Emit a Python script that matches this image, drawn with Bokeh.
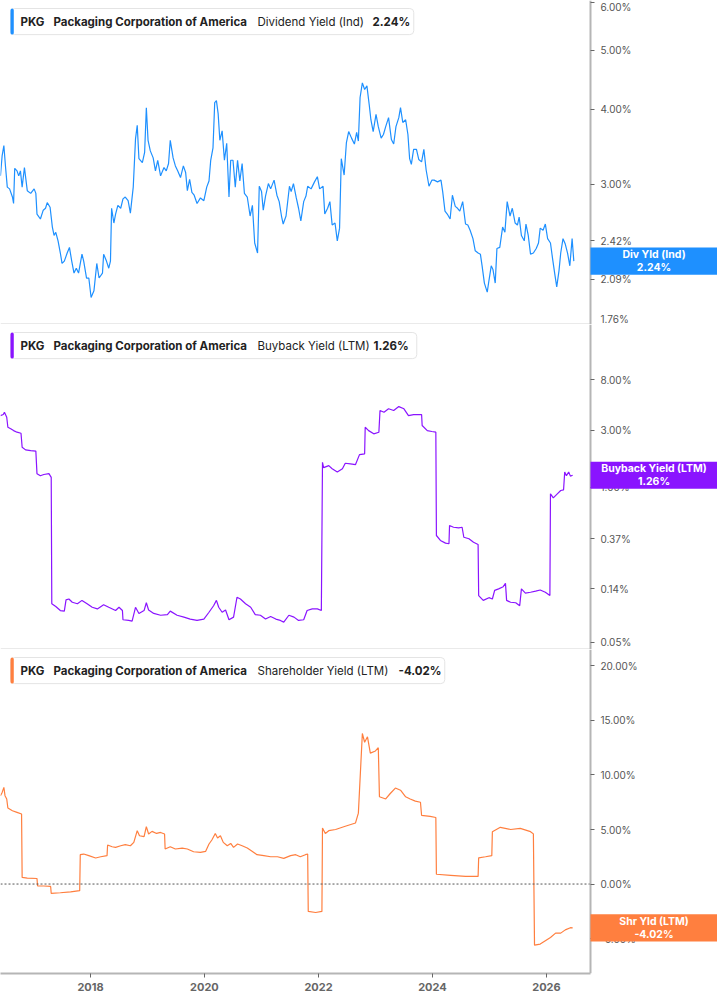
import pandas as pd
from bokeh.plotting import figure
from bokeh.layouts import column
from bokeh.models import (Range1d, FixedTicker, PrintfTickFormatter, DatetimeTickFormatter,
                          Label, ColumnDataSource)
from bokeh.embed import file_html
from bokeh.resources import INLINE

FONT = "Inter"

# ---- data: (decimal year, value in %) ----
div_yield = [(2016.42, 3.10), (2016.45, 3.35), (2016.48, 3.48), (2016.51, 3.20), (2016.54, 2.97), (2016.58, 2.95),
    (2016.63, 2.86), (2016.65, 2.79), (2016.67, 3.19), (2016.71, 3.16), (2016.74, 3.10), (2016.77, 3.16),
    (2016.80, 2.97), (2016.84, 3.20), (2016.89, 2.93), (2016.95, 2.90), (2017.01, 2.95), (2017.04, 2.90),
    (2017.06, 2.68), (2017.12, 2.63), (2017.17, 2.72), (2017.21, 2.74), (2017.24, 2.80), (2017.29, 2.75),
    (2017.33, 2.55), (2017.36, 2.47), (2017.39, 2.50), (2017.43, 2.42), (2017.47, 2.31), (2017.50, 2.22),
    (2017.54, 2.24), (2017.59, 2.31), (2017.63, 2.36), (2017.67, 2.24), (2017.71, 2.14), (2017.75, 2.18),
    (2017.79, 2.14), (2017.85, 2.30), (2017.88, 2.24), (2017.93, 2.10), (2017.97, 2.10), (2018.01, 1.95),
    (2018.06, 2.00), (2018.11, 2.22), (2018.15, 2.10), (2018.21, 2.14), (2018.23, 2.30), (2018.28, 2.24),
    (2018.32, 2.18), (2018.35, 2.24), (2018.37, 2.74), (2018.41, 2.59), (2018.44, 2.68), (2018.48, 2.77),
    (2018.53, 2.74), (2018.57, 2.84), (2018.61, 2.86), (2018.66, 2.82), (2018.70, 2.69), (2018.75, 2.97),
    (2018.79, 3.57), (2018.82, 3.76), (2018.85, 3.31), (2018.91, 3.26), (2018.95, 3.39), (2018.98, 4.02),
    (2019.01, 3.55), (2019.05, 3.41), (2019.10, 3.32), (2019.14, 3.16), (2019.18, 3.29), (2019.23, 3.10),
    (2019.29, 3.20), (2019.33, 3.16), (2019.37, 3.25), (2019.40, 3.55), (2019.45, 3.32), (2019.49, 3.22),
    (2019.53, 3.16), (2019.58, 3.08), (2019.63, 3.22), (2019.67, 3.14), (2019.70, 2.93), (2019.74, 3.06),
    (2019.78, 2.91), (2019.82, 2.88), (2019.87, 2.79), (2019.93, 2.85), (2019.99, 2.82), (2020.04, 2.97),
    (2020.08, 3.04), (2020.11, 3.29), (2020.15, 3.45), (2020.18, 4.10), (2020.21, 4.13), (2020.24, 3.93),
    (2020.27, 3.55), (2020.31, 3.68), (2020.35, 3.29), (2020.39, 3.51), (2020.43, 2.86), (2020.46, 3.29),
    (2020.50, 3.29), (2020.54, 2.97), (2020.58, 3.29), (2020.62, 3.04), (2020.66, 3.25), (2020.70, 2.90),
    (2020.75, 2.86), (2020.80, 2.66), (2020.84, 2.77), (2020.88, 2.40), (2020.93, 2.31), (2020.96, 2.98),
    (2021.00, 2.92), (2021.03, 2.72), (2021.07, 2.87), (2021.12, 3.01), (2021.16, 2.95), (2021.22, 3.05),
    (2021.27, 2.88), (2021.31, 2.81), (2021.35, 2.66), (2021.38, 2.58), (2021.43, 2.66), (2021.49, 2.98),
    (2021.52, 2.92), (2021.56, 3.01), (2021.61, 2.85), (2021.65, 2.74), (2021.69, 2.61), (2021.74, 2.81),
    (2021.78, 2.87), (2021.81, 2.98), (2021.87, 2.95), (2021.93, 3.03), (2021.98, 3.09), (2022.02, 2.95),
    (2022.08, 2.98), (2022.11, 2.68), (2022.16, 2.74), (2022.20, 2.81), (2022.24, 2.57), (2022.29, 2.59),
    (2022.33, 2.42), (2022.37, 2.54), (2022.40, 3.31), (2022.45, 3.11), (2022.49, 3.52), (2022.53, 3.67),
    (2022.58, 3.58), (2022.63, 3.50), (2022.67, 3.66), (2022.70, 3.54), (2022.73, 4.18), (2022.77, 4.42),
    (2022.81, 4.31), (2022.85, 4.37), (2022.89, 4.07), (2022.92, 3.84), (2022.96, 3.67), (2023.01, 3.92),
    (2023.05, 3.74), (2023.10, 3.58), (2023.14, 3.63), (2023.18, 3.74), (2023.23, 3.87), (2023.28, 3.56),
    (2023.32, 3.50), (2023.36, 3.74), (2023.41, 3.87), (2023.44, 4.02), (2023.48, 3.80), (2023.53, 3.84),
    (2023.57, 3.63), (2023.60, 3.31), (2023.63, 3.24), (2023.67, 3.43), (2023.72, 3.43), (2023.76, 3.30),
    (2023.81, 3.27), (2023.85, 3.43), (2023.89, 3.17), (2023.94, 2.98), (2023.99, 3.05), (2024.03, 3.05),
    (2024.09, 3.03), (2024.15, 3.05), (2024.18, 2.92), (2024.22, 2.71), (2024.26, 2.68), (2024.31, 2.63),
    (2024.35, 2.88), (2024.40, 2.76), (2024.44, 2.74), (2024.48, 2.71), (2024.53, 2.81), (2024.58, 2.58),
    (2024.62, 2.57), (2024.66, 2.52), (2024.71, 2.44), (2024.75, 2.33), (2024.80, 2.31), (2024.84, 2.30),
    (2024.87, 2.20), (2024.91, 2.06), (2024.96, 1.99), (2024.99, 2.08), (2025.03, 2.20), (2025.06, 2.17),
    (2025.10, 2.06), (2025.13, 2.35), (2025.18, 2.36), (2025.23, 2.55), (2025.27, 2.50), (2025.31, 2.81),
    (2025.36, 2.66), (2025.40, 2.74), (2025.45, 2.59), (2025.49, 2.57), (2025.52, 2.65), (2025.56, 2.47),
    (2025.61, 2.42), (2025.64, 2.58), (2025.68, 2.47), (2025.72, 2.30), (2025.77, 2.31), (2025.82, 2.35),
    (2025.86, 2.40), (2025.89, 2.54), (2025.94, 2.52), (2025.98, 2.58), (2026.02, 2.44), (2026.07, 2.40),
    (2026.11, 2.25), (2026.15, 2.12), (2026.18, 2.03), (2026.22, 2.16), (2026.25, 2.31), (2026.29, 2.44),
    (2026.33, 2.39), (2026.37, 2.31), (2026.41, 2.20), (2026.45, 2.44), (2026.48, 2.24)]

buyback_yield = [(2016.42, 4.00), (2016.47, 4.08), (2016.49, 4.27), (2016.53, 3.87), (2016.55, 3.19), (2016.60, 3.10),
    (2016.65, 2.99), (2016.71, 2.90), (2016.78, 2.84), (2016.80, 2.17), (2016.86, 2.06), (2016.95, 2.03),
    (2017.04, 2.01), (2017.06, 1.30), (2017.12, 1.25), (2017.18, 1.28), (2017.27, 1.30), (2017.31, 1.21),
    (2017.32, 0.105), (2017.39, 0.0995), (2017.47, 0.092), (2017.54, 0.091), (2017.57, 0.113), (2017.62, 0.115),
    (2017.68, 0.108), (2017.77, 0.105), (2017.85, 0.112), (2017.94, 0.105), (2018.03, 0.098), (2018.12, 0.095),
    (2018.23, 0.103), (2018.32, 0.098), (2018.44, 0.092), (2018.50, 0.098), (2018.56, 0.092), (2018.57, 0.077),
    (2018.67, 0.076), (2018.73, 0.075), (2018.79, 0.098), (2018.85, 0.087), (2018.94, 0.092), (2018.98, 0.107),
    (2019.02, 0.093), (2019.11, 0.087), (2019.23, 0.084), (2019.35, 0.085), (2019.40, 0.091), (2019.52, 0.084),
    (2019.64, 0.081), (2019.75, 0.078), (2019.87, 0.076), (2019.99, 0.078), (2020.08, 0.089), (2020.16, 0.101),
    (2020.21, 0.112), (2020.25, 0.098), (2020.31, 0.089), (2020.37, 0.093), (2020.43, 0.077), (2020.51, 0.081),
    (2020.57, 0.119), (2020.63, 0.115), (2020.72, 0.105), (2020.81, 0.098), (2020.89, 0.085), (2020.98, 0.084),
    (2021.07, 0.078), (2021.16, 0.082), (2021.25, 0.078), (2021.33, 0.076), (2021.39, 0.0735), (2021.48, 0.084),
    (2021.57, 0.081), (2021.65, 0.076), (2021.74, 0.077), (2021.80, 0.092), (2021.89, 0.095), (2021.98, 0.095),
    (2022.05, 0.092), (2022.07, 1.62), (2022.09, 1.46), (2022.18, 1.52), (2022.24, 1.43), (2022.33, 1.34),
    (2022.42, 1.43), (2022.47, 1.59), (2022.56, 1.57), (2022.65, 1.55), (2022.72, 1.88), (2022.81, 1.91),
    (2022.82, 3.19), (2022.88, 2.99), (2022.97, 2.81), (2023.06, 2.90), (2023.08, 4.41), (2023.15, 4.27),
    (2023.23, 4.56), (2023.32, 4.41), (2023.41, 4.76), (2023.50, 4.56), (2023.58, 4.00), (2023.67, 4.08),
    (2023.81, 4.08), (2023.82, 3.30), (2023.91, 2.99), (2023.99, 2.94), (2024.06, 2.90), (2024.07, 0.393),
    (2024.14, 0.357), (2024.23, 0.339), (2024.29, 0.335), (2024.30, 0.477), (2024.37, 0.461), (2024.46, 0.456),
    (2024.52, 0.461), (2024.55, 0.380), (2024.64, 0.369), (2024.72, 0.345), (2024.80, 0.330), (2024.81, 0.123),
    (2024.89, 0.112), (2024.99, 0.118), (2025.05, 0.115), (2025.09, 0.136), (2025.16, 0.140), (2025.24, 0.146),
    (2025.28, 0.156), (2025.30, 0.112), (2025.37, 0.108), (2025.46, 0.107), (2025.53, 0.101), (2025.56, 0.140),
    (2025.63, 0.129), (2025.72, 0.131), (2025.81, 0.134), (2025.89, 0.137), (2025.98, 0.131), (2026.06, 0.123),
    (2026.07, 0.880), (2026.12, 0.815), (2026.19, 0.880), (2026.25, 0.938), (2026.30, 0.951), (2026.32, 1.34),
    (2026.35, 1.25), (2026.39, 1.34), (2026.42, 1.24), (2026.46, 1.26)]

shareholder_yield = [(2016.42, 8.10), (2016.45, 8.40), (2016.48, 8.86), (2016.50, 8.10), (2016.53, 7.80), (2016.55, 6.97),
    (2016.63, 6.72), (2016.71, 6.57), (2016.79, 6.42), (2016.80, 0.61), (2016.89, 0.55), (2017.06, 0.51),
    (2017.07, -0.16), (2017.18, -0.18), (2017.30, -0.22), (2017.31, -0.86), (2017.47, -0.80), (2017.65, -0.71),
    (2017.81, -0.61), (2017.82, 2.69), (2017.88, 2.75), (2017.97, 2.60), (2018.09, 2.39), (2018.18, 2.50),
    (2018.29, 2.60), (2018.30, 3.58), (2018.38, 3.42), (2018.44, 3.36), (2018.53, 3.51), (2018.61, 3.61),
    (2018.70, 3.51), (2018.76, 3.82), (2018.82, 4.89), (2018.86, 4.43), (2018.94, 4.34), (2018.98, 5.26),
    (2019.02, 4.59), (2019.08, 4.83), (2019.16, 4.64), (2019.23, 4.73), (2019.30, 4.59), (2019.31, 3.21),
    (2019.40, 3.42), (2019.49, 3.21), (2019.61, 3.30), (2019.70, 3.21), (2019.81, 2.96), (2019.93, 2.90),
    (2020.02, 2.99), (2020.08, 3.67), (2020.13, 4.04), (2020.19, 4.64), (2020.23, 4.22), (2020.28, 4.43),
    (2020.33, 3.82), (2020.40, 3.51), (2020.46, 3.72), (2020.51, 3.36), (2020.58, 3.67), (2020.66, 3.51),
    (2020.75, 3.30), (2020.84, 2.99), (2020.92, 2.69), (2021.04, 2.60), (2021.16, 2.50), (2021.28, 2.50),
    (2021.39, 2.35), (2021.51, 2.60), (2021.60, 2.69), (2021.68, 2.50), (2021.77, 2.69), (2021.81, 2.75),
    (2021.82, -2.51), (2021.95, -2.61), (2022.06, -2.51), (2022.07, 5.14), (2022.12, 4.64), (2022.18, 4.89),
    (2022.30, 5.00), (2022.47, 5.30), (2022.65, 5.60), (2022.70, 6.50), (2022.77, 13.8), (2022.81, 13.0),
    (2022.86, 13.5), (2022.91, 12.0), (2023.00, 12.2), (2023.05, 12.5), (2023.07, 8.00), (2023.18, 7.80),
    (2023.26, 8.30), (2023.35, 8.80), (2023.44, 8.60), (2023.53, 8.00), (2023.61, 7.80), (2023.70, 7.60),
    (2023.79, 7.50), (2023.81, 6.30), (2023.96, 6.20), (2024.06, 6.10), (2024.07, 0.90), (2024.32, 0.80),
    (2024.58, 0.70), (2024.80, 0.70), (2024.81, 2.40), (2024.93, 2.50), (2025.04, 2.60), (2025.05, 4.80),
    (2025.19, 5.20), (2025.37, 5.00), (2025.54, 5.10), (2025.72, 4.80), (2025.77, 4.60), (2025.79, -5.60),
    (2025.89, -5.50), (2025.98, -5.20), (2026.07, -4.90), (2026.16, -4.50), (2026.25, -4.50), (2026.33, -4.20),
    (2026.42, -4.00), (2026.46, -4.02)]

div_ticks = [1.76, 2.09, 2.42, 3.00, 4.00, 5.00, 6.00]
buy_ticks = [0.05, 0.14, 0.37, 1.00, 3.00, 8.00]
shr_ticks = [-5, 0, 5, 10, 15, 20]
x_tick_years = [2018, 2020, 2022, 2024, 2026]

company = "Packaging Corporation of America"
ticker = "PKG"


def dt(t):
    y = int(t)
    a = pd.Timestamp(year=y, month=1, day=1)
    b = pd.Timestamp(year=y + 1, month=1, day=1)
    return a + (b - a) * (t - y)


def ms(t):
    return dt(t).value / 1e6


# view: left edge, price-axis position, right edge (decimal years)
X0, AX, X_END = 2016.421, 2026.772, 2029.0
W = 717
AXIS_PX = 590
TAG_W = W - AXIS_PX
FS = "11.5px"


def box(p, x, y, w, h, fill, line=None, radius=0, y_units="screen", baseline="top", pad_top=0, pad_bottom=None):
    if pad_bottom is None:
        pad_bottom = h
    p.add_layout(Label(x=x, y=y, x_units="screen", y_units=y_units, text=" ", text_font_size="1px",
                       text_align="left", text_baseline=baseline,
                       padding=dict(left=0, right=w, top=pad_top, bottom=pad_bottom),
                       background_fill_color=fill, border_line_color=line, border_radius=radius))


def panel(points, color, ytype, yr, ticks, h, metric, tag_name, val_x, box_right, bottom=False):
    t = [a for a, _ in points]
    v = [b for _, b in points]
    p = figure(width=W, height=h, x_axis_type="datetime", y_axis_type=ytype,
               x_range=Range1d(dt(X0), dt(X_END)), y_range=Range1d(*yr),
               y_axis_location="right", x_axis_location="below" if bottom else None,
               toolbar_location=None, output_backend="svg",
               min_border_left=0, min_border_right=0, min_border_top=0,
               min_border_bottom=32 if bottom else 0)
    p.outline_line_color = None
    p.grid.visible = False
    p.background_fill_color = "white"
    p.border_fill_color = "white"
    src = ColumnDataSource(dict(x=[dt(a) for a in t], y=v))
    p.line("x", "y", source=src, color=color, line_width=1.2)

    ya = p.yaxis[0]
    ya.fixed_location = ms(AX)
    ya.ticker = FixedTicker(ticks=ticks, minor_ticks=[])
    ya.formatter = PrintfTickFormatter(format="%.2f%%")
    ya.axis_line_color = "#b5b5b5"
    ya.axis_line_width = 2
    ya.major_tick_out = 4
    ya.major_tick_in = 0
    ya.minor_tick_out = 0
    ya.minor_tick_in = 0
    ya.major_tick_line_color = "#666666"
    ya.major_label_text_color = "#555555"
    ya.major_label_text_font = FONT
    ya.major_label_text_font_size = "10px"
    ya.major_label_standoff = 6

    if bottom:
        xa = p.xaxis[0]
        xa.bounds = (dt(X0), dt(AX))
        xa.ticker = FixedTicker(ticks=[ms(yy) for yy in x_tick_years], minor_ticks=[])
        xa.formatter = DatetimeTickFormatter(years="%Y", months="%Y", days="%Y", hours="%Y")
        xa.axis_line_color = "#b5b5b5"
        xa.axis_line_width = 2
        xa.major_tick_out = 4
        xa.major_tick_in = 0
        xa.minor_tick_out = 0
        xa.major_tick_line_color = "#666666"
        xa.major_label_text_color = "#666666"
        xa.major_label_text_font = FONT
        xa.major_label_text_font_style = "bold"
        xa.major_label_text_font_size = "11px"
        xa.major_label_standoff = 5
    else:
        # panel separator along the bottom edge, up to the price axis
        p.segment(x0=[dt(X0)], y0=[yr[0]], x1=[dt(AX)], y1=[yr[0]], line_color="#d5d5d5", line_width=2)

    fh = h - (32 if bottom else 0)
    last = v[-1]
    val_str = f"{last:.2f}%"
    # legend box
    box(p, 10, fh - 8, box_right - 10, 25, "white", line="#e4e4e4", radius=4)
    box(p, 10, fh - 8, 3, 25, color, radius=2)
    ty = fh - 21
    for x, txt, style in [(20, ticker, "bold"), (53, company, "bold"),
                          (257, metric, "normal"), (val_x, val_str, "bold")]:
        p.add_layout(Label(x=x, y=ty, x_units="screen", y_units="screen", text=txt, text_font=FONT,
                           text_font_size=FS, text_font_style=style, text_color="#222222",
                           text_baseline="middle", text_align="left"))
    # value tag on the right, at the last value
    box(p, AXIS_PX, last, TAG_W, 0, color, y_units="data", baseline="middle", pad_top=13, pad_bottom=13)
    p.add_layout(Label(x=AXIS_PX + TAG_W / 2, y=last, x_units="screen", y_units="data",
                       text=f"{tag_name}\n{val_str}", text_font=FONT, text_font_size="10.5px",
                       text_font_style="bold", text_color="white", text_align="center",
                       text_baseline="middle", text_line_height=1.0))
    return p


p1 = panel(div_yield, "#1E90FF", "log", (1.759, 6.05), div_ticks, 324,
           "Dividend Yield (Ind)", "Div Yld (Ind)", 372, 413)
p2 = panel(buyback_yield, "#8A14FF", "log", (0.0433, 23.3), buy_ticks, 325,
           "Buyback Yield (LTM)", "Buyback Yield (LTM)", 373, 416)
p3 = panel(shareholder_yield, "#FF7F3F", "linear", (-8.2, 21.5), shr_ticks, 356,
           "Shareholder Yield (LTM)", "Shr Yld (LTM)", 398, 444, bottom=True)
p3.segment(x0=[dt(X0)], y0=[0], x1=[dt(AX)], y1=[0], line_color="#555555", line_dash="2 2", line_width=1)

layout = column(p1, p2, p3, spacing=0)
open("out.html", "w").write(file_html(layout, INLINE))
